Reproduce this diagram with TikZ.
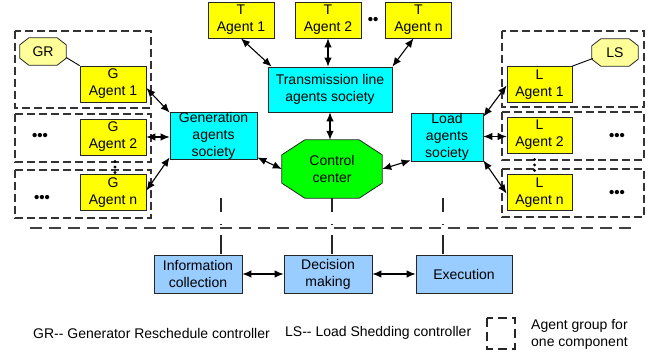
\documentclass[tikz,border=0pt]{standalone}
\usepackage{fontspec}
\setmainfont{Liberation Sans}
\usetikzlibrary{arrows.meta,calc,backgrounds}

\definecolor{agentyellow}{HTML}{FFFF00}
\definecolor{ctrlyellow}{HTML}{FFFF99}
\definecolor{societycyan}{HTML}{00FFFF}
\definecolor{centergreen}{HTML}{00FF00}
\definecolor{phaseblue}{HTML}{99CCFF}

% octagon drawn round a named (borderless) node: #1 node, #2 horizontal cut, #3 vertical cut, #4 style
\newcommand\octagonround[4]{%
  \draw[#4] ($(#1.north west)+(#2,0)$) -- ($(#1.north east)+(-#2,0)$)
    -- ($(#1.north east)+(0,#3)$) -- ($(#1.south east)+(0,-#3)$)
    -- ($(#1.south east)+(-#2,0)$) -- ($(#1.south west)+(#2,0)$)
    -- ($(#1.south west)+(0,-#3)$) -- ($(#1.north west)+(0,#3)$) -- cycle;}

\tikzset{
  txt/.style={font=\fontsize{14}{17}\selectfont},
  base/.style={txt, draw=black!85, line width=0.8pt, align=center, inner sep=0pt},
  agent/.style={base, fill=agentyellow, minimum width=66pt, minimum height=36pt},
  society/.style={base, fill=societycyan},
  phase/.style={base, fill=phaseblue, minimum height=38pt},
  octnode/.style={txt, align=center, inner sep=0pt},
  octline/.style={draw=black!85, line width=0.8pt},
  group/.style={draw=black!80, line width=1.1pt, dash pattern=on 8pt off 4pt},
  link/.style={line width=1.1pt, {Latex[length=9pt,width=7.5pt]}-{Latex[length=9pt,width=7.5pt]}},
  plain/.style={line width=0.9pt},
  dotsrow/.style={font=\fontsize{15}{15}\bfseries\selectfont, inner sep=0pt},
  vdots/.style={line width=3.2pt, line cap=round, dash pattern=on 0pt off 5.5pt},
  sepline/.style={draw=black!75, line width=1.2pt, dash pattern=on 12pt off 7pt},
  tieline/.style={draw=black!85, line width=1.2pt, dash pattern=on 14pt off 12pt on 1pt off 10pt on 19pt off 20pt},
  legendbox/.style={draw=black!85, line width=1.1pt, dash pattern=on 9pt off 5pt},
}

\begin{document}
\begin{tikzpicture}[x=1pt,y=-1pt]
\useasboundingbox (0,0) rectangle (659,354);

% dashed agent groups
\draw[group] (15,31) rectangle (151,108);
\draw[group] (15,114) rectangle (151,162);
\draw[group] (15,170) rectangle (151,218);
\draw[group] (502,31) rectangle (644,107);
\draw[group] (502,112) rectangle (644,160);
\draw[group] (502,169) rectangle (644,217);

% transmission line agents
\node[agent] (t1) at (241,20) {T\\Agent 1};
\node[agent] (t2) at (328,20) {T\\Agent 2};
\node[agent] (tn) at (418.5,20) {T\\Agent n};
\node[dotsrow] (tdots) at (373,21) {••};

% societies
\node[society, minimum width=124pt, minimum height=45pt] (tl) at (330,89.5) {Transmission line\\agents society};
\node[society, minimum width=87pt, minimum height=47pt] (gen) at (213.5,135.5) {Generation\\agents\\society};
\node[society, minimum width=72pt, minimum height=48pt] (load) at (447,137) {Load\\agents\\society};

% control center
\node[octnode, minimum width=100pt, minimum height=58pt] (cc) at (332,169) {Control\\center};

% generator agents
\node[agent] (g1) at (113,84) {G\\Agent 1};
\node[agent] (g2) at (113,137) {G\\Agent 2};
\node[agent] (gn) at (113,192.5) {G\\Agent n};
\node[octnode, minimum width=46pt, minimum height=27pt] (gr) at (43,51.5) {GR};
\node[dotsrow] (gdots2) at (40,137) {•••};
\node[dotsrow] (gdotsn) at (42,199) {•••};

% load agents
\node[agent, minimum width=65pt] (l1) at (539.5,84.5) {L\\Agent 1};
\node[agent, minimum width=65pt] (l2) at (539.5,135) {L\\Agent 2};
\node[agent, minimum width=65pt] (ln) at (539.5,192.5) {L\\Agent n};
\node[octnode, minimum width=46pt, minimum height=27pt] (ls) at (615,52.5) {LS};
\node[dotsrow] (ldots2) at (617,137) {•••};
\node[dotsrow] (ldotsn) at (617,194) {•••};

% octagon outlines behind their texts
\begin{scope}[on background layer]
  \octagonround{cc}{23}{15}{octline, fill=centergreen}
  \octagonround{gr}{9}{7}{octline, fill=ctrlyellow}
  \octagonround{ls}{9}{7}{octline, fill=ctrlyellow}
\end{scope}

% control loop phases
\node[phase, minimum width=88pt] (info) at (198,274) {Information\\collection};
\node[phase, minimum width=88pt] (dec) at (328,274) {Decision\\making};
\node[phase, minimum width=96pt] (exec) at (464,274) {Execution};

% links
\draw[link] (t1.south) -- ($(tl.north west)+(4,0)$);
\draw[link] (t2.south) -- (t2.south |- tl.north);
\draw[link] ($(tn.south)+(-5,0)$) -- (tl.north east);
\draw[link] (tl.south) -- (tl.south |- cc.north);

\draw[link] ($(g1.east)+(0,4)$) -- ($(gen.north west)+(0,1)$);
\draw[link] (g2.east) -- (g2.east -| gen.west);
\draw[link] ($(gn.east)+(0,-2)$) -- ($(gen.south west)+(0,-2)$);
\draw[link] ($(gen.south east)+(0,-2)$) -- (cc.west);

\draw[link] ($(load.north east)+(0,4)$) -- ($(l1.west)+(0,1)$);
\draw[link] ($(load.east)+(0,-0.5)$) -- ($(load.east -| l2.west)+(0,-0.5)$);
\draw[link] ($(load.south east)+(0,-1)$) -- ($(ln.west)+(0,1)$);
\draw[link] ($(load.south west)+(0,-1)$) -- (cc.east);

\draw[link] (info) -- (dec);
\draw[link] (dec) -- (exec);

% controllers attached to agents
\draw[plain] ($(gr.east)+(0,6)$) -- (g1.north west);
\draw[plain] ($(ls.west)+(1,6)$) -- (l1.north east);

% continuation dots between agents
\draw[vdots] ($(g2.south)+(2,6)$) -- ($(gn.north)+(2,-1)$);
\draw[vdots] ($(l2.south)+(-5,6)$) -- ($(ln.north)+(-5,-1)$);

% separator and ties to the control loop
\draw[sepline] (30,228) -- (637,228);
\draw[tieline] (221,198) -- (221,254);
\draw[tieline] (332,198) -- (332,254);
\draw[tieline] (443,198) -- (443,254);

% legend
\node[txt, anchor=west, inner sep=0pt] (lgr) at (33,333) {GR-\kern0pt- Generator Reschedule controller};
\node[txt, anchor=west, inner sep=0pt] (lls) at (285,333) {LS-\kern0pt- Load Shedding controller};
\draw[legendbox] (487,318) rectangle (515,349);
\node[txt, anchor=west, align=left, inner sep=0pt] (lag) at (531,334) {Agent group for\\one component};
\end{tikzpicture}
\end{document}
